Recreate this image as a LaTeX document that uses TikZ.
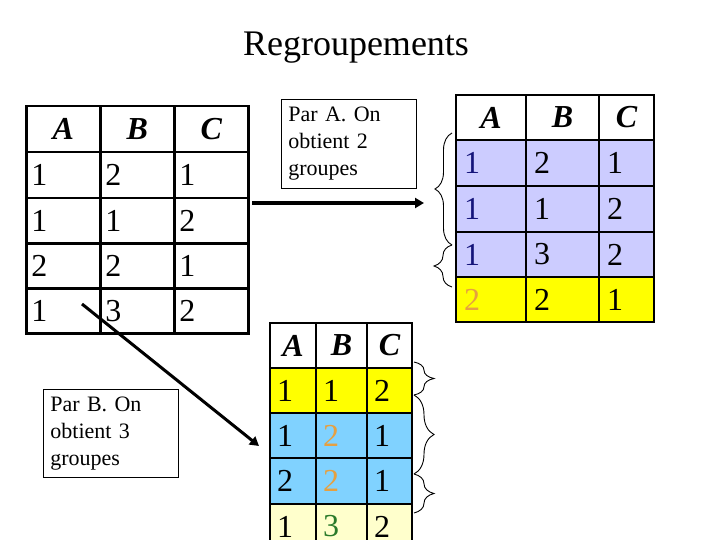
\documentclass[tikz,border=0pt]{standalone}
\usepackage{fontspec}
\setmainfont{Liberation Serif}
\usetikzlibrary{decorations.pathreplacing,arrows.meta}
\definecolor{lav}{HTML}{CCCCFF}
\definecolor{yel}{HTML}{FFFF00}
\definecolor{lblue}{HTML}{80D2FF}
\definecolor{lyel}{HTML}{FFFFCC}
\definecolor{navy}{HTML}{14147A}
\definecolor{orng}{HTML}{E6A040}
\definecolor{grn}{HTML}{2A7A2A}
\begin{document}
\begin{tikzpicture}[x=1pt,y=-1pt,
  cell/.style={draw, anchor=north west, inner ysep=0pt, line width=2pt,
    align=left, font=\fontsize{32}{36}\selectfont},
  hd/.style={cell, align=center, font=\fontsize{32}{36}\selectfont\bfseries\itshape},
  lt/.style={inner xsep=5pt, minimum height=46pt, line width=2.5pt},
  rt/.style={inner xsep=8pt, minimum height=46pt},
  bt/.style={inner xsep=7pt, minimum height=45pt},
  w/.style 2 args={minimum width=#1pt, text width=#2pt},
  textbox/.style={draw, line width=0.8pt, anchor=north west, minimum width=135pt,
    text width=121pt, inner xsep=7pt, align=left, font=\fontsize{22}{27}\selectfont},
  brc/.style={decorate, decoration={brace, amplitude=#1}, line width=0.9pt},
  bigarrow/.style={-{Triangle[length=9pt,width=10pt]}}
]
\useasboundingbox (0,0) rectangle (720,540);
\clip (0,0) rectangle (720,540);

% title
\node[font=\fontsize{36}{40}\selectfont, anchor=base] (title) at (356,56) {Regroupements};

% left table
\node[hd,lt,w={74}{64}] (LhA) at (25,105) {A};
\node[hd,lt,w={74}{64}] (LhB) at (99,105) {B};
\node[hd,lt,w={74}{64}] (LhC) at (173,105) {C};
\node[cell,lt,w={74}{64}] (L1A) at (25,151) {1};
\node[cell,lt,w={74}{64}] (L1B) at (99,151) {2};
\node[cell,lt,w={74}{64}] (L1C) at (173,151) {1};
\node[cell,lt,w={74}{64},minimum height=45pt] (L2A) at (25,197) {1};
\node[cell,lt,w={74}{64},minimum height=45pt] (L2B) at (99,197) {1};
\node[cell,lt,w={74}{64},minimum height=45pt] (L2C) at (173,197) {2};
\node[cell,lt,w={74}{64},minimum height=45pt] (L3A) at (25,242) {2};
\node[cell,lt,w={74}{64},minimum height=45pt] (L3B) at (99,242) {2};
\node[cell,lt,w={74}{64},minimum height=45pt] (L3C) at (173,242) {1};
\node[cell,lt,w={74}{64},minimum height=45pt] (L4A) at (25,287) {1};
\node[cell,lt,w={74}{64},minimum height=45pt] (L4B) at (99,287) {3};
\node[cell,lt,w={74}{64},minimum height=45pt] (L4C) at (173,287) {2};

% right table
\node[hd,rt,w={70}{54},minimum height=45pt] (RhA) at (455,94) {A};
\node[hd,rt,w={73}{57},minimum height=45pt] (RhB) at (525,94) {B};
\node[hd,rt,w={55}{39},minimum height=45pt] (RhC) at (598,94) {C};
\node[cell,rt,w={70}{54},fill=lav,text=navy] (R1A) at (455,139) {1};
\node[cell,rt,w={73}{57},fill=lav] (R1B) at (525,139) {2};
\node[cell,rt,w={55}{39},fill=lav] (R1C) at (598,139) {1};
\node[cell,rt,w={70}{54},fill=lav,text=navy] (R2A) at (455,185) {1};
\node[cell,rt,w={73}{57},fill=lav] (R2B) at (525,185) {1};
\node[cell,rt,w={55}{39},fill=lav] (R2C) at (598,185) {2};
\node[cell,rt,w={70}{54},fill=lav,text=navy,minimum height=45pt] (R3A) at (455,231) {1};
\node[cell,rt,w={73}{57},fill=lav,minimum height=45pt] (R3B) at (525,231) {3};
\node[cell,rt,w={55}{39},fill=lav,minimum height=45pt] (R3C) at (598,231) {2};
\node[cell,rt,w={70}{54},fill=yel,text=orng,minimum height=45pt] (R4A) at (455,276) {2};
\node[cell,rt,w={73}{57},fill=yel,minimum height=45pt] (R4B) at (525,276) {2};
\node[cell,rt,w={55}{39},fill=yel,minimum height=45pt] (R4C) at (598,276) {1};

% bottom table
\node[hd,bt,w={46}{32}] (BhA) at (269,322) {A};
\node[hd,bt,w={51}{37}] (BhB) at (315,322) {B};
\node[hd,bt,w={45}{31}] (BhC) at (366,322) {C};
\node[cell,bt,w={46}{32},fill=yel] (B1A) at (269,367) {1};
\node[cell,bt,w={51}{37},fill=yel] (B1B) at (315,367) {1};
\node[cell,bt,w={45}{31},fill=yel] (B1C) at (366,367) {2};
\node[cell,bt,w={46}{32},fill=lblue] (B2A) at (269,412) {1};
\node[cell,bt,w={51}{37},fill=lblue,text=orng] (B2B) at (315,412) {2};
\node[cell,bt,w={45}{31},fill=lblue] (B2C) at (366,412) {1};
\node[cell,bt,w={46}{32},fill=lblue,minimum height=46pt] (B3A) at (269,457) {2};
\node[cell,bt,w={51}{37},fill=lblue,text=orng,minimum height=46pt] (B3B) at (315,457) {2};
\node[cell,bt,w={45}{31},fill=lblue,minimum height=46pt] (B3C) at (366,457) {1};
\node[cell,bt,w={46}{32},fill=lyel] (B4A) at (269,503) {1};
\node[cell,bt,w={51}{37},fill=lyel,text=grn] (B4B) at (315,503) {3};
\node[cell,bt,w={45}{31},fill=lyel] (B4C) at (366,503) {2};

% text boxes
\node[textbox, minimum height=89pt] (boxA) at (281,99) {Par A. On\\obtient 2\\groupes};
\node[textbox, minimum height=88pt] (boxB) at (43,389) {Par B. On\\obtient 3\\groupes};

% braces right table
\draw[brc=17pt] (452,245) -- (452,133);
\draw[brc=18pt] (452,287) -- (452,245);
% braces bottom table
\draw[brc=20pt] (414,362) -- (414,395);
\draw[brc=20pt] (414,395) -- (414,474);
\draw[brc=20pt] (414,474) -- (414,513);

% arrows
\coordinate (a1s) at (252,203);
\coordinate (a1e) at (424,203);
\draw[bigarrow, line width=4pt] (a1s) -- (a1e);
\coordinate (a2s) at (82,304);
\coordinate (a2e) at (259,446);
\draw[bigarrow, line width=3pt] (a2s) -- (a2e);
\end{tikzpicture}
\end{document}
